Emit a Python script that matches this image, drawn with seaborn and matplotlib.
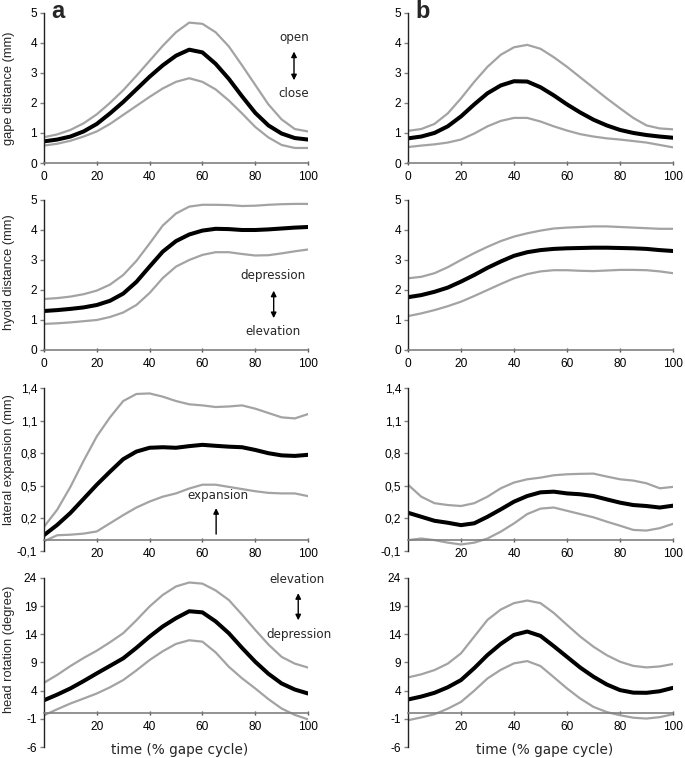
import matplotlib
matplotlib.use("Agg")
import matplotlib.pyplot as plt
import seaborn as sns

# percent of gape cycle, 5 % steps
pct = list(range(0, 101, 5))

# gape distance (mm)
gape_a_mean = [0.72, 0.78, 0.88, 1.05, 1.3, 1.65, 2.03, 2.45, 2.87, 3.25, 3.57, 3.77, 3.68, 3.3, 2.8, 2.22, 1.67, 1.25, 0.98, 0.83, 0.78]
gape_a_hi = [0.86, 0.95, 1.1, 1.32, 1.62, 2.0, 2.42, 2.9, 3.4, 3.9, 4.35, 4.67, 4.63, 4.35, 3.88, 3.25, 2.6, 1.95, 1.45, 1.13, 1.05]
gape_a_lo = [0.58, 0.64, 0.74, 0.88, 1.05, 1.3, 1.6, 1.9, 2.2, 2.48, 2.7, 2.82, 2.7, 2.45, 2.08, 1.65, 1.2, 0.85, 0.6, 0.5, 0.5]
gape_b_mean = [0.82, 0.88, 1.0, 1.22, 1.55, 1.95, 2.32, 2.58, 2.72, 2.71, 2.52, 2.25, 1.95, 1.68, 1.44, 1.25, 1.1, 1.0, 0.93, 0.88, 0.84]
gape_b_hi = [1.07, 1.13, 1.3, 1.65, 2.15, 2.7, 3.2, 3.6, 3.85, 3.93, 3.8, 3.52, 3.2, 2.85, 2.5, 2.15, 1.82, 1.5, 1.25, 1.15, 1.12]
gape_b_lo = [0.53, 0.58, 0.62, 0.68, 0.78, 0.98, 1.22, 1.4, 1.5, 1.5, 1.38, 1.22, 1.08, 0.96, 0.88, 0.82, 0.78, 0.73, 0.68, 0.6, 0.52]

# hyoid distance (mm)
hyoid_a_mean = [1.3, 1.33, 1.37, 1.42, 1.5, 1.64, 1.88, 2.27, 2.78, 3.28, 3.63, 3.85, 3.98, 4.04, 4.03, 4.0, 4.0, 4.02, 4.05, 4.08, 4.1]
hyoid_a_hi = [1.7, 1.73, 1.78, 1.86, 1.98, 2.18, 2.5, 2.97, 3.55, 4.15, 4.55, 4.78, 4.84, 4.84, 4.83, 4.8, 4.81, 4.84, 4.86, 4.87, 4.87]
hyoid_a_lo = [0.87, 0.89, 0.92, 0.96, 1.0, 1.1, 1.25, 1.5, 1.9, 2.4, 2.78, 3.0, 3.17, 3.26, 3.26, 3.2, 3.15, 3.16, 3.22, 3.29, 3.35]
hyoid_b_mean = [1.76, 1.83, 1.94, 2.08, 2.28, 2.5, 2.74, 2.95, 3.14, 3.26, 3.33, 3.37, 3.39, 3.4, 3.41, 3.41, 3.4, 3.39, 3.37, 3.33, 3.3]
hyoid_b_hi = [2.39, 2.44, 2.56, 2.76, 3.0, 3.23, 3.44, 3.63, 3.78, 3.89, 3.98, 4.05, 4.08, 4.1, 4.12, 4.12, 4.1, 4.08, 4.06, 4.04, 4.04]
hyoid_b_lo = [1.13, 1.22, 1.33, 1.46, 1.61, 1.8, 2.0, 2.2, 2.39, 2.53, 2.62, 2.66, 2.66, 2.64, 2.63, 2.65, 2.67, 2.67, 2.66, 2.62, 2.56]

# lateral expansion (mm)
lat_a_mean = [0.046, 0.14, 0.25, 0.38, 0.51, 0.63, 0.745, 0.815, 0.85, 0.855, 0.85, 0.865, 0.877, 0.868, 0.86, 0.855, 0.83, 0.8, 0.78, 0.775, 0.785]
lat_a_hi = [0.123, 0.28, 0.49, 0.73, 0.955, 1.13, 1.28, 1.345, 1.35, 1.32, 1.28, 1.25, 1.24, 1.225, 1.23, 1.24, 1.21, 1.17, 1.13, 1.12, 1.16]
lat_a_lo = [-0.01, 0.045, 0.05, 0.06, 0.08, 0.155, 0.23, 0.3, 0.355, 0.4, 0.43, 0.475, 0.51, 0.51, 0.49, 0.47, 0.45, 0.435, 0.43, 0.43, 0.405]
lat_b_mean = [0.252, 0.215, 0.178, 0.16, 0.138, 0.155, 0.215, 0.283, 0.354, 0.406, 0.44, 0.446, 0.43, 0.422, 0.406, 0.375, 0.345, 0.323, 0.314, 0.3, 0.317]
lat_b_hi = [0.51, 0.4, 0.34, 0.323, 0.314, 0.34, 0.4, 0.477, 0.53, 0.56, 0.575, 0.597, 0.606, 0.61, 0.612, 0.585, 0.56, 0.548, 0.523, 0.477, 0.49]
lat_b_lo = [0.0, 0.015, 0.0, -0.023, -0.04, -0.023, 0.015, 0.078, 0.154, 0.24, 0.29, 0.3, 0.27, 0.24, 0.21, 0.17, 0.133, 0.094, 0.088, 0.11, 0.15]

# head rotation (degree)
head_a_mean = [2.3, 3.3, 4.4, 5.7, 7.07, 8.4, 9.74, 11.6, 13.6, 15.4, 16.87, 18.1, 17.9, 16.3, 14.2, 11.6, 9.14, 7.0, 5.28, 4.2, 3.5]
head_a_hi = [5.4, 6.8, 8.37, 9.8, 11.1, 12.6, 14.2, 16.5, 18.95, 21.0, 22.5, 23.2, 23.0, 21.8, 20.1, 17.5, 14.8, 12.2, 10.0, 8.8, 8.1]
head_a_lo = [-0.36, 0.7, 1.72, 2.6, 3.5, 4.6, 5.88, 7.6, 9.44, 11.0, 12.3, 12.95, 12.7, 10.8, 8.25, 6.2, 4.4, 2.5, 0.83, -0.3, -1.1]
head_b_mean = [2.43, 2.95, 3.62, 4.6, 5.88, 8.0, 10.33, 12.3, 13.9, 14.5, 13.72, 11.9, 10.0, 8.1, 6.47, 5.1, 4.1, 3.65, 3.62, 3.9, 4.5]
head_b_hi = [6.35, 6.9, 7.66, 8.8, 10.63, 13.6, 16.57, 18.4, 19.54, 20.0, 19.54, 17.8, 15.68, 13.6, 11.8, 10.3, 9.14, 8.4, 8.13, 8.3, 8.73]
head_b_lo = [-1.25, -0.75, -0.18, 0.8, 2.0, 4.0, 6.17, 7.7, 8.85, 9.25, 8.37, 6.4, 4.4, 2.6, 1.12, 0.2, -0.36, -0.8, -0.95, -0.7, -0.18]

row_labels = ["gape distance (mm)", "hyoid distance (mm)",
              "lateral expansion (mm)", "head rotation (degree)"]
row_yticks = [[0, 1, 2, 3, 4, 5], [0, 1, 2, 3, 4, 5],
              [-0.1, 0.2, 0.5, 0.8, 1.1, 1.4], [-6, -1, 4, 9, 14, 19, 24]]
row_yticklabels = [["0", "1", "2", "3", "4", "5"], ["0", "1", "2", "3", "4", "5"],
                   ["-0,1", "0,2", "0,5", "0,8", "1,1", "1,4"],
                   ["-6", "-1", "4", "9", "14", "19", "24"]]

panels = [
    [(gape_a_mean, gape_a_hi, gape_a_lo), (gape_b_mean, gape_b_hi, gape_b_lo)],
    [(hyoid_a_mean, hyoid_a_hi, hyoid_a_lo), (hyoid_b_mean, hyoid_b_hi, hyoid_b_lo)],
    [(lat_a_mean, lat_a_hi, lat_a_lo), (lat_b_mean, lat_b_hi, lat_b_lo)],
    [(head_a_mean, head_a_hi, head_a_lo), (head_b_mean, head_b_hi, head_b_lo)],
]

sns.set_style("ticks")
plt.rcParams["font.family"] = ["Liberation Sans", "DejaVu Sans"]

W, H = 685, 758
fig = plt.figure(figsize=(W / 100, H / 100), dpi=100)

# pixel boxes: (left, right) per column, (top, bottom) per row
cols_px = [(44, 308), (408, 673)]
rows_px = [(12.7, 163), (200, 350), (388, 551), (578, 747)]
label_y = [0.5, 0.52, 0.56, 0.58]

GRAY = "#a3a3a3"
axes = []
for r, (top, bot) in enumerate(rows_px):
    row_axes = []
    for c, (lft, rgt) in enumerate(cols_px):
        ax = fig.add_axes([lft / W, 1 - bot / H, (rgt - lft) / W, (bot - top) / H])
        mean, hi, lo = panels[r][c]
        sns.lineplot(x=pct, y=hi, ax=ax, color=GRAY, linewidth=1.6)
        sns.lineplot(x=pct, y=lo, ax=ax, color=GRAY, linewidth=1.6)
        sns.lineplot(x=pct, y=mean, ax=ax, color="black", linewidth=2.9)
        ax.set_xlim(0, 100)
        ax.set_ylim(row_yticks[r][0], row_yticks[r][-1])
        ax.set_yticks(row_yticks[r])
        ax.set_yticklabels(row_yticklabels[r])
        if r >= 2:
            ax.spines["bottom"].set_position(("data", 0))
            ax.set_xticks([20, 40, 60, 80, 100])
        else:
            ax.set_xticks([0, 20, 40, 60, 80, 100])
        for s in ("top", "right"):
            ax.spines[s].set_visible(False)
        ax.spines["left"].set_color("#222222")
        ax.spines["bottom"].set_color("#808080")
        ax.spines["left"].set_linewidth(1.0)
        ax.spines["bottom"].set_linewidth(1.2)
        ax.tick_params(axis="y", length=3, width=1, color="#808080",
                       labelsize=8.6, pad=2, labelcolor="black")
        ax.tick_params(axis="x", length=3, width=1, color="#555555", direction="inout",
                       labelsize=8.6, pad=4, labelcolor="black")
        ax.set_xlabel("")
        if c == 0:
            ax.set_ylabel(row_labels[r], fontsize=9.3, va="center")
            ax.yaxis.set_label_coords(-0.132, label_y[r])
        else:
            ax.set_ylabel("")
        row_axes.append(ax)
    axes.append(row_axes)

# panel letters
fig.text(58 / W, 1 - 11 / H, "a", fontsize=17, fontweight="bold", ha="center", va="center")
fig.text(423 / W, 1 - 11 / H, "b", fontsize=17, fontweight="bold", ha="center", va="center")

ann = dict(fontsize=8.6, family="DejaVu Sans", ha="center", va="center")
dbl = dict(arrowstyle="<|-|>", color="black", lw=1.0, mutation_scale=8)
one = dict(arrowstyle="-|>", color="black", lw=1.0, mutation_scale=8)

ax = axes[0][0]
ax.text(94.7, 4.19, "open", **ann)
ax.text(94.7, 2.3, "close", **ann)
ax.annotate("", xy=(94.7, 3.8), xytext=(94.7, 2.66), arrowprops=dbl)

ax = axes[1][0]
ax.text(86.8, 2.5, "depression", **ann)
ax.text(86.8, 0.6, "elevation", **ann)
ax.annotate("", xy=(87, 2.07), xytext=(87, 0.97), arrowprops=dbl)

ax = axes[2][0]
ax.text(66, 0.41, "expansion", **ann)
ax.annotate("", xy=(65.2, 0.32), xytext=(65.2, 0.03), arrowprops=one)

ax = axes[3][0]
ax.text(95.8, 23.7, "elevation", **ann)
ax.text(96.5, 13.9, "depression", **ann)
ax.annotate("", xy=(96.3, 21.8), xytext=(96.3, 16.0), arrowprops=dbl)

for xc in (180, 545):
    fig.text(xc / W, 4 / H, "time (% gape cycle)", fontsize=9.8,
             family="DejaVu Sans", ha="center", va="baseline")

fig.savefig("out.png", dpi=100)
